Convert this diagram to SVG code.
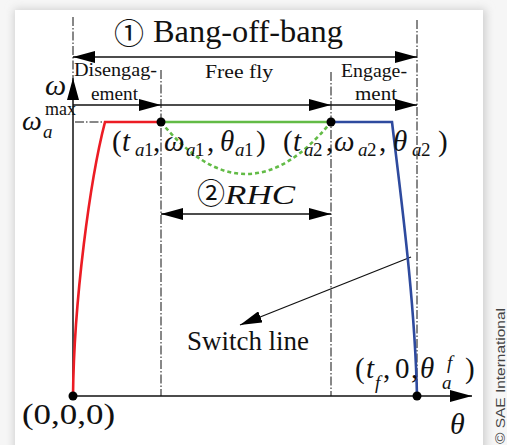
<svg xmlns="http://www.w3.org/2000/svg" width="507" height="445" viewBox="0 0 507 445">
<defs>
<filter id="sh" x="-5%" y="-5%" width="110%" height="110%"><feGaussianBlur stdDeviation="4"/></filter>
<marker id="ah" markerUnits="userSpaceOnUse" markerWidth="22" markerHeight="12" refX="22" refY="6" orient="auto-start-reverse" viewBox="0 0 22 12">
<path d="M0,0 L22,6 L0,12 Z" fill="#000"/>
</marker>
<style>
.t{font-family:"Liberation Serif","Times New Roman",serif;fill:#111}
.ax{stroke:#111;stroke-width:1.5;fill:none}
.dd{stroke:#111;stroke-width:1;stroke-dasharray:9 2 1.5 2;fill:none}
.ar{stroke:#111;stroke-width:1.3;fill:none}
.cv{stroke-width:2.6;fill:none}
</style>
</defs>
<rect x="0" y="0" width="507" height="445" fill="#f6f6f6"/>
<rect x="14" y="9" width="472" height="445" fill="#cfcfcf" filter="url(#sh)"/>
<rect x="15" y="10" width="468" height="440" fill="#fff"/>
<text transform="translate(505,444) rotate(-90)" style="font-family:'Liberation Sans',Arial,sans-serif" font-size="12" fill="#444" textLength="136" lengthAdjust="spacingAndGlyphs">© SAE International</text>

<g id="guides">
<path class="dd" d="M73,17 V78"/>
<path class="dd" d="M161,70 V396"/>
<path class="dd" d="M331,72 V396"/>
<path class="dd" d="M417,20 V396"/>
<path class="dd" d="M75,122 H105"/>
</g>

<g id="axes">
<path class="ax" d="M73,396 V78" marker-end="url(#ah)"/>
<path class="ax" d="M73,396 H472" marker-end="url(#ah)"/>
<text class="t" font-style="italic" x="45" y="95" font-size="30">ω</text>
<text class="t" font-style="italic" x="450" y="434" font-size="30">θ</text>
</g>

<g id="connectors">
<path class="ar" d="M73,57 H417" marker-start="url(#ah)" marker-end="url(#ah)"/>
<path class="ar" d="M73,105 H161" marker-end="url(#ah)"/>
<path class="ar" d="M161,105 H331" marker-end="url(#ah)"/>
<path class="ar" d="M331,105 H417" marker-end="url(#ah)"/>
<path class="ar" d="M161,214 H331" marker-start="url(#ah)" marker-end="url(#ah)"/>
<path class="ar" d="M411,257 L240,325" marker-end="url(#ah)"/>
</g>

<g id="curves">
<path class="cv" stroke="#ec1c24" d="M73,396 C74,300 90,180 105,122 H161"/>
<path class="cv" stroke="#62bb46" d="M161,122 H331"/>
<path class="cv" stroke="#62bb46" stroke-width="2" stroke-dasharray="4 3" d="M161,122 Q246,226 331,122"/>
<path class="cv" stroke="#2e4a9e" d="M331,122 H392 C400,190 415,300 417,396"/>
</g>

<g id="points" fill="#000">
<circle cx="161" cy="122" r="4.5"/>
<circle cx="331" cy="122" r="4.5"/>
<circle cx="73" cy="396" r="4.5"/>
<circle cx="417" cy="396" r="4.5"/>
</g>

<g id="title">
<text class="t" x="114" y="44" font-size="30" style="font-family:'Noto Sans CJK JP','Liberation Serif',serif">①</text>
<text class="t" x="153" y="42" font-size="32" textLength="190" lengthAdjust="spacingAndGlyphs">Bang-off-bang</text>
</g>

<g id="phase-labels">
<text class="t" x="74" y="76" font-size="18" textLength="83" lengthAdjust="spacingAndGlyphs">Disengag-</text>
<text class="t" x="91" y="100" font-size="18" textLength="47" lengthAdjust="spacingAndGlyphs">ement</text>
<text class="t" x="205" y="78" font-size="18" textLength="68" lengthAdjust="spacingAndGlyphs">Free fly</text>
<text class="t" x="341" y="77" font-size="18" textLength="66" lengthAdjust="spacingAndGlyphs">Engage-</text>
<text class="t" x="355" y="100" font-size="18" textLength="42" lengthAdjust="spacingAndGlyphs">ment</text>
</g>

<g id="rhc">
<text class="t" x="197" y="204" font-size="28" style="font-family:'Noto Sans CJK JP','Liberation Serif',serif">②</text>
<text class="t" font-style="italic" x="225" y="204" font-size="28" textLength="70" lengthAdjust="spacingAndGlyphs">RHC</text>
</g>

<g id="wmax">
<text class="t" font-size="28"><tspan font-style="italic" x="22" y="130">ω</tspan><tspan font-size="18" x="45" y="115">max</tspan><tspan font-style="italic" font-size="19" x="43" y="138">a</tspan></text>
</g>

<g id="point1">
<text class="t" font-size="29"><tspan x="112" y="151">(</tspan><tspan font-style="italic" x="122" y="151">t</tspan><tspan font-style="italic" font-size="19" x="135" y="156">a</tspan><tspan font-size="19" x="144" y="156">1</tspan><tspan x="153" y="151">,</tspan><tspan font-style="italic" x="164" y="151">ω</tspan><tspan font-style="italic" font-size="19" x="186" y="156">a</tspan><tspan font-size="19" x="195" y="156">1</tspan><tspan x="207" y="151">,</tspan><tspan font-style="italic" x="220" y="151">θ</tspan><tspan font-style="italic" font-size="19" x="235" y="156">a</tspan><tspan font-size="19" x="244" y="156">1</tspan><tspan x="256" y="151">)</tspan></text>
</g>

<g id="point2">
<text class="t" font-size="29"><tspan x="283" y="151">(</tspan><tspan font-style="italic" x="293" y="151">t</tspan><tspan font-style="italic" font-size="19" x="304" y="156">a</tspan><tspan font-size="19" x="313" y="156">2</tspan><tspan x="326" y="151">,</tspan><tspan font-style="italic" x="334" y="151">ω</tspan><tspan font-style="italic" font-size="19" x="358" y="156">a</tspan><tspan font-size="19" x="367" y="156">2</tspan><tspan x="379" y="151">,</tspan><tspan font-style="italic" x="393" y="151">θ</tspan><tspan font-style="italic" font-size="19" x="412" y="156">a</tspan><tspan font-size="19" x="421" y="156">2</tspan><tspan x="438" y="151">)</tspan></text>
</g>

<g id="origin">
<text class="t" x="22" y="424" font-size="30" textLength="93" lengthAdjust="spacingAndGlyphs">(0,0,0)</text>
</g>

<g id="endpoint">
<text class="t" font-size="29"><tspan x="355" y="378">(</tspan><tspan font-style="italic" x="366" y="378">t</tspan><tspan font-style="italic" font-size="19" x="375" y="389">f</tspan><tspan x="383" y="378">,</tspan><tspan x="395" y="378">0</tspan><tspan x="411" y="378">,</tspan><tspan font-style="italic" x="420" y="378">θ</tspan><tspan font-style="italic" font-size="19" x="447" y="369">f</tspan><tspan font-style="italic" font-size="19" x="442" y="389">a</tspan><tspan x="465" y="378">)</tspan></text>
</g>

<g id="switch-label">
<text class="t" x="187" y="350" font-size="27" textLength="122" lengthAdjust="spacingAndGlyphs">Switch line</text>
</g>
</svg>
